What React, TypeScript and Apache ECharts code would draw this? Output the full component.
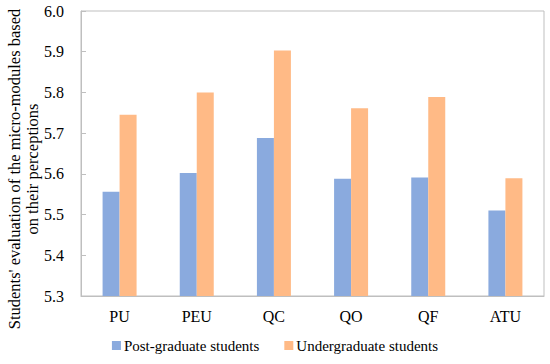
import React, { useEffect, useRef } from "react";
import * as echarts from "echarts";

const categories = ["PU", "PEU", "QC", "QO", "QF", "ATU"];
const postGraduate = [5.556, 5.602, 5.688, 5.588, 5.591, 5.51];
const undergraduate = [5.745, 5.8, 5.903, 5.761, 5.789, 5.589];
const seriesNames = ["Post-graduate students", "Undergraduate students"];
const yTitle = "Students' evaluation of the micro-modules based\non their perceptions";

const FONT = "'Liberation Serif', 'Times New Roman', serif";

export default function App() {
  const ref = useRef<HTMLDivElement>(null);
  useEffect(() => {
    if (!ref.current) return;
    const chart = echarts.init(ref.current, null, { renderer: "svg" });
    chart.setOption({
      animation: false,
      textStyle: { fontFamily: FONT, color: "#000" },
      grid: {
        left: 81,
        right: 6,
        top: 11,
        bottom: 68,
        show: true,
        borderColor: "#BFBFBF",
        borderWidth: 1,
      },
      legend: {
        bottom: 6,
        left: "center",
        icon: "rect",
        itemWidth: 9,
        itemHeight: 9,
        itemGap: 25,
        textStyle: { fontFamily: FONT, fontSize: 15, color: "#000", padding: [0, 0, 0, -2] },
        data: seriesNames,
      },
      xAxis: {
        type: "category",
        data: categories,
        boundaryGap: true,
        axisLine: { lineStyle: { color: "#BFBFBF", width: 1 } },
        axisTick: { inside: true, length: 6, lineStyle: { color: "#BFBFBF" } },
        axisLabel: { fontFamily: FONT, fontSize: 16, color: "#000", margin: 12 },
      },
      yAxis: {
        type: "value",
        min: 5.3,
        max: 6.0,
        interval: 0.1,
        axisLine: { show: true, lineStyle: { color: "#BFBFBF", width: 1 } },
        axisTick: { show: true, inside: true, length: 5, lineStyle: { color: "#BFBFBF" } },
        splitLine: { show: false },
        axisLabel: {
          fontFamily: FONT,
          fontSize: 16,
          color: "#000",
          margin: 17,
          formatter: (v: number) => v.toFixed(1),
        },
      },
      graphic: [
        {
          type: "text",
          x: 23,
          y: 169,
          rotation: Math.PI / 2,
          style: {
            text: yTitle,
            fontFamily: FONT,
            fontSize: 16.5,
            fill: "#000",
            align: "center",
            verticalAlign: "middle",
            lineHeight: 18,
          },
        },
      ],
      series: [
        {
          name: seriesNames[0],
          type: "bar",
          data: postGraduate,
          barWidth: 17,
          barGap: "0%",
          itemStyle: { color: "#8AAADE" },
        },
        {
          name: seriesNames[1],
          type: "bar",
          data: undergraduate,
          barWidth: 17,
          barGap: "0%",
          itemStyle: { color: "#FFBA86" },
        },
      ],
    });
    return () => chart.dispose();
  }, []);
  return (
    <div
      ref={ref}
      style={{ position: "fixed", left: 0, top: 0, width: 550, height: 364, background: "#fff" }}
    />
  );
}
